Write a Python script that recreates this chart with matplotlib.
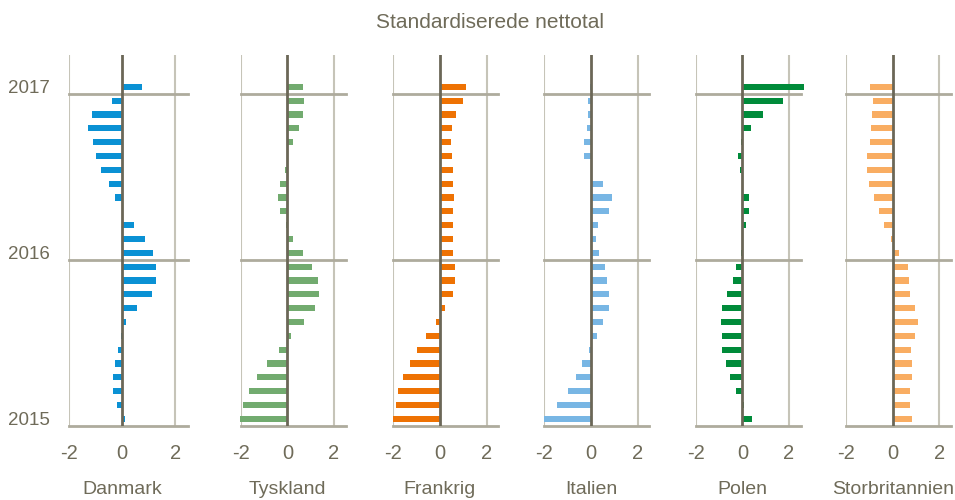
import numpy as np
import matplotlib
matplotlib.use('Agg')
import matplotlib.pyplot as plt
from matplotlib import font_manager

# months Jan 2015 .. Jan 2017, chronological (bottom to top)
lande = ['Danmark', 'Tyskland', 'Frankrig', 'Italien', 'Polen', 'Storbritannien']
danmark = [0.11, -0.19, -0.35, -0.35, -0.29, -0.16, -0.03, 0.13, 0.57, 1.11, 1.26, 1.29,
           1.17, 0.88, 0.45, 0.0, -0.27, -0.5, -0.81, -1.0, -1.10, -1.30, -1.15, -0.39, 0.76]
tyskland = [-2.05, -1.9, -1.63, -1.3, -0.86, -0.36, 0.17, 0.73, 1.19, 1.36, 1.31, 1.06,
            0.66, 0.26, -0.07, -0.3, -0.41, -0.3, -0.11, -0.02, 0.26, 0.51, 0.69, 0.73, 0.66]
frankrig = [-2.0, -1.9, -1.79, -1.6, -1.3, -0.97, -0.59, -0.16, 0.21, 0.54, 0.66, 0.63,
            0.56, 0.54, 0.56, 0.56, 0.59, 0.56, 0.56, 0.53, 0.47, 0.51, 0.7, 0.97, 1.11]
italien = [-2.0, -1.44, -0.99, -0.66, -0.39, -0.07, 0.26, 0.5, 0.76, 0.77, 0.7, 0.61,
           0.36, 0.21, 0.31, 0.77, 0.9, 0.5, 0.0, -0.3, -0.29, -0.16, -0.11, -0.14, -0.04]
polen = [0.43, 0.05, -0.27, -0.51, -0.71, -0.86, -0.89, -0.93, -0.89, -0.66, -0.41, -0.27,
         -0.06, 0.04, 0.14, 0.3, 0.27, 0.0, -0.11, -0.19, -0.04, 0.36, 0.87, 1.76, 2.64]
storbritannien = [0.83, 0.74, 0.73, 0.81, 0.83, 0.8, 0.94, 1.1, 0.96, 0.76, 0.7, 0.64,
                  0.26, -0.09, -0.39, -0.6, -0.81, -1.0, -1.11, -1.09, -0.99, -0.93, -0.87, -0.83, -0.99]
aar_labels = ['2015', '2016', '2017']
aar_pos = [0, 12, 24]
xticks = [-2, 0, 2]

serier = [danmark, tyskland, frankrig, italien, polen, storbritannien]
farver = ['#0a91d4', '#72ab6f', '#ee7203', '#78b6e4', '#008b3a', '#f9ad62']

names = {f.name for f in font_manager.fontManager.ttflist}
fam = 'Liberation Sans Narrow' if 'Liberation Sans Narrow' in names else 'Liberation Sans'
plt.rcParams['font.family'] = [fam, 'DejaVu Sans']
tekst = '#6f6b59'

W, H = 955, 500
fig = plt.figure(figsize=(W / 100, H / 100), dpi=100)

venstre = [69.3, 240.7, 393.3, 544.3, 695.7, 846]
bredde = [119, 105, 105, 105, 105, 105]
top_px, bund_px = 55, 425.7

for i, (navn, vals, c) in enumerate(zip(lande, serier, farver)):
    ax = fig.add_axes([venstre[i] / W, (H - bund_px) / H, bredde[i] / W, (bund_px - top_px) / H])
    y = np.arange(len(vals))
    ax.barh(y, vals, height=0.45, color=c, clip_on=False, zorder=2)
    ax.set_xlim(-2, 2.5)
    ax.set_ylim(-0.5, 26.3)
    for s in ax.spines.values():
        s.set_visible(False)
    ax.axvline(-2, color='#c6c4b8', lw=1.5, zorder=1)
    ax.axvline(2, color='#c6c4b8', lw=1.5, zorder=1)
    for h in [-0.5, 11.5, 23.5]:
        ax.axhline(h, color='#aeab9d', lw=2, zorder=1, clip_on=False)
    ax.axvline(0, color='#6b6757', lw=2, zorder=3)
    ax.set_xticks(xticks)
    ax.set_xticklabels([str(t) for t in xticks])
    ax.tick_params(axis='x', length=0, pad=13, labelsize=14.5, labelcolor=tekst)
    if i == 0:
        ax.set_yticks(aar_pos)
        ax.set_yticklabels(aar_labels)
        ax.tick_params(axis='y', length=0, pad=14, labelsize=13.5, labelcolor=tekst)
    else:
        ax.set_yticks([])
    x0 = venstre[i] + 2 / 4.5 * bredde[i]
    fig.text(x0 / W, 1 - 490 / H, navn, ha='center', va='center', fontsize=14, color=tekst)

fig.text(490 / W, 1 - 22 / H, 'Standardiserede nettotal', ha='center', va='center',
         fontsize=15, color=tekst)

plt.savefig('out.png', dpi=100)
